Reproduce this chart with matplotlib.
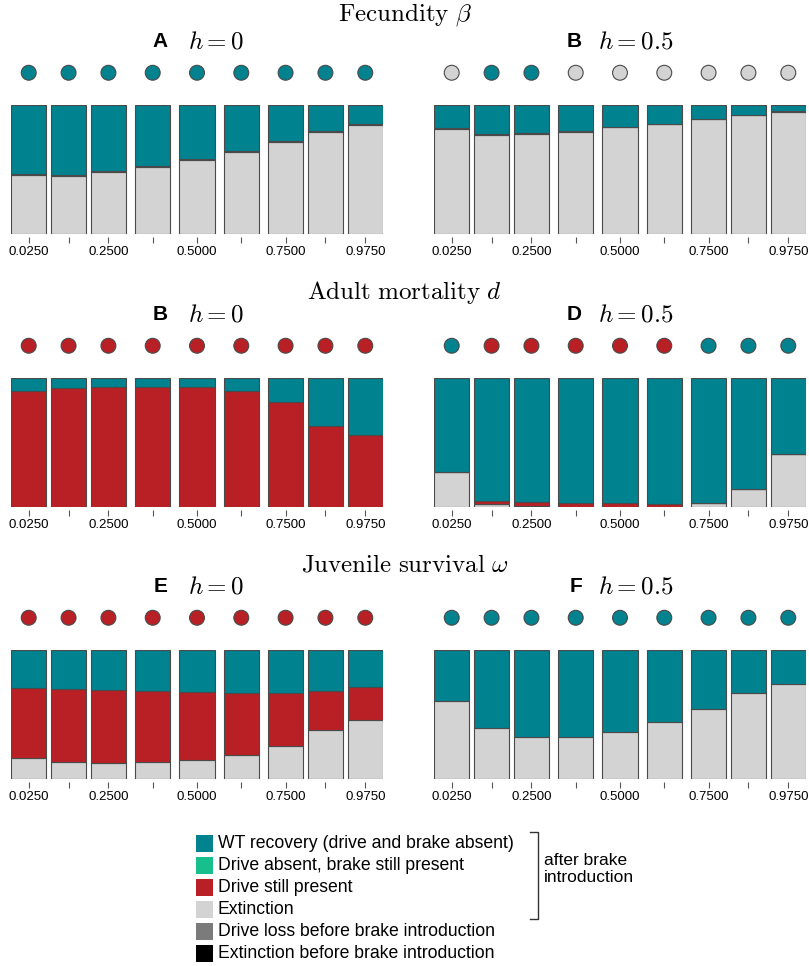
import numpy as np
import matplotlib
matplotlib.use("Agg")
import matplotlib.pyplot as plt
from matplotlib.patches import Rectangle

plt.rcParams["font.family"] = "Liberation Sans"
plt.rcParams["mathtext.fontset"] = "cm"

# parameter values on the x axis (bar centres) and tick labels
xvals = [0.025, 0.1375, 0.25, 0.375, 0.5, 0.625, 0.75, 0.8625, 0.975]
xlabels = ["0.0250", "", "0.2500", "", "0.5000", "", "0.7500", "", "0.9750"]

# colours
c_wt = "#00828f"
c_green = "#16bf8b"
c_red = "#b92025"
c_ext = "#d3d3d3"
c_loss = "#7b7b7b"
c_blk = "#000000"
c_edge = "#4a4a4a"

# outcome fractions per panel (bottom to top: extinction, extinction before brake,
# drive still present, WT recovery)
A_ext = [0.454, 0.446, 0.477, 0.519, 0.571, 0.633, 0.713, 0.791, 0.845]
A_blk = [0.009] * 9
A_red = [0.0] * 9
A_wt = [0.537, 0.545, 0.514, 0.472, 0.420, 0.358, 0.278, 0.200, 0.146]
A_dots = ["wt"] * 9

B_ext = [0.816, 0.769, 0.777, 0.793, 0.829, 0.852, 0.891, 0.922, 0.948]
B_blk = [0.003] * 9
B_red = [0.0] * 9
B_wt = [0.181, 0.228, 0.220, 0.204, 0.168, 0.145, 0.106, 0.075, 0.049]
B_dots = ["ext", "wt", "wt", "ext", "ext", "ext", "ext", "ext", "ext"]

C_ext = [0.0] * 9
C_blk = [0.0] * 9
C_red = [0.900, 0.923, 0.930, 0.933, 0.928, 0.897, 0.812, 0.631, 0.562]
C_wt = [0.100, 0.077, 0.070, 0.067, 0.072, 0.103, 0.188, 0.369, 0.438]
C_dots = ["red"] * 9

D_ext = [0.268, 0.026, 0.004, 0.002, 0.002, 0.002, 0.028, 0.137, 0.412]
D_blk = [0.006, 0.0, 0.0, 0.0, 0.0, 0.0, 0.006, 0.004, 0.0]
D_red = [0.0, 0.021, 0.032, 0.032, 0.026, 0.024, 0.0, 0.0, 0.0]
D_wt = [0.726, 0.953, 0.964, 0.966, 0.972, 0.974, 0.966, 0.859, 0.588]
D_dots = ["wt", "red", "red", "red", "red", "red", "wt", "wt", "wt"]

E_ext = [0.166, 0.135, 0.124, 0.130, 0.145, 0.187, 0.259, 0.383, 0.459]
E_blk = [0.0] * 9
E_red = [0.536, 0.564, 0.568, 0.549, 0.526, 0.476, 0.404, 0.301, 0.256]
E_wt = [0.298, 0.301, 0.308, 0.321, 0.329, 0.337, 0.337, 0.316, 0.285]
E_dots = ["red"] * 9

F_ext = [0.601, 0.396, 0.329, 0.324, 0.363, 0.440, 0.541, 0.666, 0.738]
F_blk = [0.0] * 9
F_red = [0.0] * 9
F_wt = [0.399, 0.604, 0.671, 0.676, 0.637, 0.560, 0.459, 0.334, 0.262]
F_dots = ["wt"] * 9

panel_letters = ["A", "B", "B", "D", "E", "F"]
panel_h = ["$h = 0$", "$h = 0.5$"] * 3
row_titles = [r"$\mathrm{Fecundity}\ \beta$", r"$\mathrm{Adult\ mortality}\ d$",
              r"$\mathrm{Juvenile\ survival}\ \omega$"]

legend_labels = ["WT recovery (drive and brake absent)", "Drive absent, brake still present",
                 "Drive still present", "Extinction", "Drive loss before brake introduction",
                 "Extinction before brake introduction"]
legend_colors = [c_wt, c_green, c_red, c_ext, c_loss, c_blk]

dot_col = {"wt": c_wt, "red": c_red, "ext": c_ext}

W, H = 809, 966
fig = plt.figure(figsize=(W / 100, H / 100), dpi=100)

panels = [(A_ext, A_blk, A_red, A_wt, A_dots), (B_ext, B_blk, B_red, B_wt, B_dots),
          (C_ext, C_blk, C_red, C_wt, C_dots), (D_ext, D_blk, D_red, D_wt, D_dots),
          (E_ext, E_blk, E_red, E_wt, E_dots), (F_ext, F_blk, F_red, F_wt, F_dots)]
col_left = [11, 434]
row_bottom = [234, 507, 779]
axw, axh = 372, 129

for i, (ext, blk, red, wt, dots) in enumerate(panels):
    r, c = i // 2, i % 2
    ax = fig.add_axes([col_left[c] / W, 1 - row_bottom[r] / H, axw / W, axh / H])
    bottom = np.zeros(len(xvals))
    for vals, col in [(ext, c_ext), (blk, c_blk), (red, c_red), (wt, c_wt)]:
        v = np.array(vals)
        if v.sum() == 0:
            continue
        ax.bar(xvals, v, width=0.1, bottom=bottom, color=col, edgecolor=c_edge, linewidth=0.8)
        bottom = bottom + v
    ax.scatter(xvals, [1.25] * len(xvals), s=115, c=[dot_col[d] for d in dots],
               edgecolors=c_edge, linewidths=0.8, clip_on=False, zorder=3)
    ax.set_xlim(-0.025, 1.025)
    ax.set_ylim(0, 1)
    for s in ["top", "right", "left"]:
        ax.spines[s].set_visible(False)
    ax.spines["bottom"].set_position(("outward", 2))
    ax.spines["bottom"].set_color("none")
    ax.set_yticks([])
    ax.set_xticks(xvals)
    ax.set_xticklabels(xlabels, fontsize=9.5)
    ax.tick_params(axis="x", length=4.5, width=0.8, color="#555555", pad=2)
    if c == 0:
        ax.text(0.422, 1.49, panel_letters[i], transform=ax.transAxes, ha="right",
                va="center", fontsize=15, fontweight="bold")
        ax.text(0.476, 1.49, panel_h[i], transform=ax.transAxes, ha="left",
                va="center", fontsize=18)
    else:
        ax.text(0.398, 1.49, panel_letters[i], transform=ax.transAxes, ha="right",
                va="center", fontsize=15, fontweight="bold")
        ax.text(0.441, 1.49, panel_h[i], transform=ax.transAxes, ha="left",
                va="center", fontsize=18)

for t, y in zip(row_titles, [15, 293, 565]):
    fig.text(0.5, 1 - y / H, t, ha="center", va="center", fontsize=18)

# legend in pixel coordinates
lg = fig.add_axes([0, 0, 1, 1])
lg.set_xlim(0, W)
lg.set_ylim(H, 0)
lg.axis("off")
for k, (lab, col) in enumerate(zip(legend_labels, legend_colors)):
    y = 843 + 22 * k
    lg.add_patch(Rectangle((196, y - 8.5), 17, 17, facecolor=col, edgecolor="none"))
    lg.text(218, y, lab, ha="left", va="center", fontsize=12.7)
lg.plot([530, 538, 538, 530], [832, 832, 919, 919], color="#333333", lw=1)
lg.text(544, 869, "after brake\nintroduction", ha="left", va="center", fontsize=12.5,
        linespacing=1.1)

fig.savefig("out.png", dpi=100)
